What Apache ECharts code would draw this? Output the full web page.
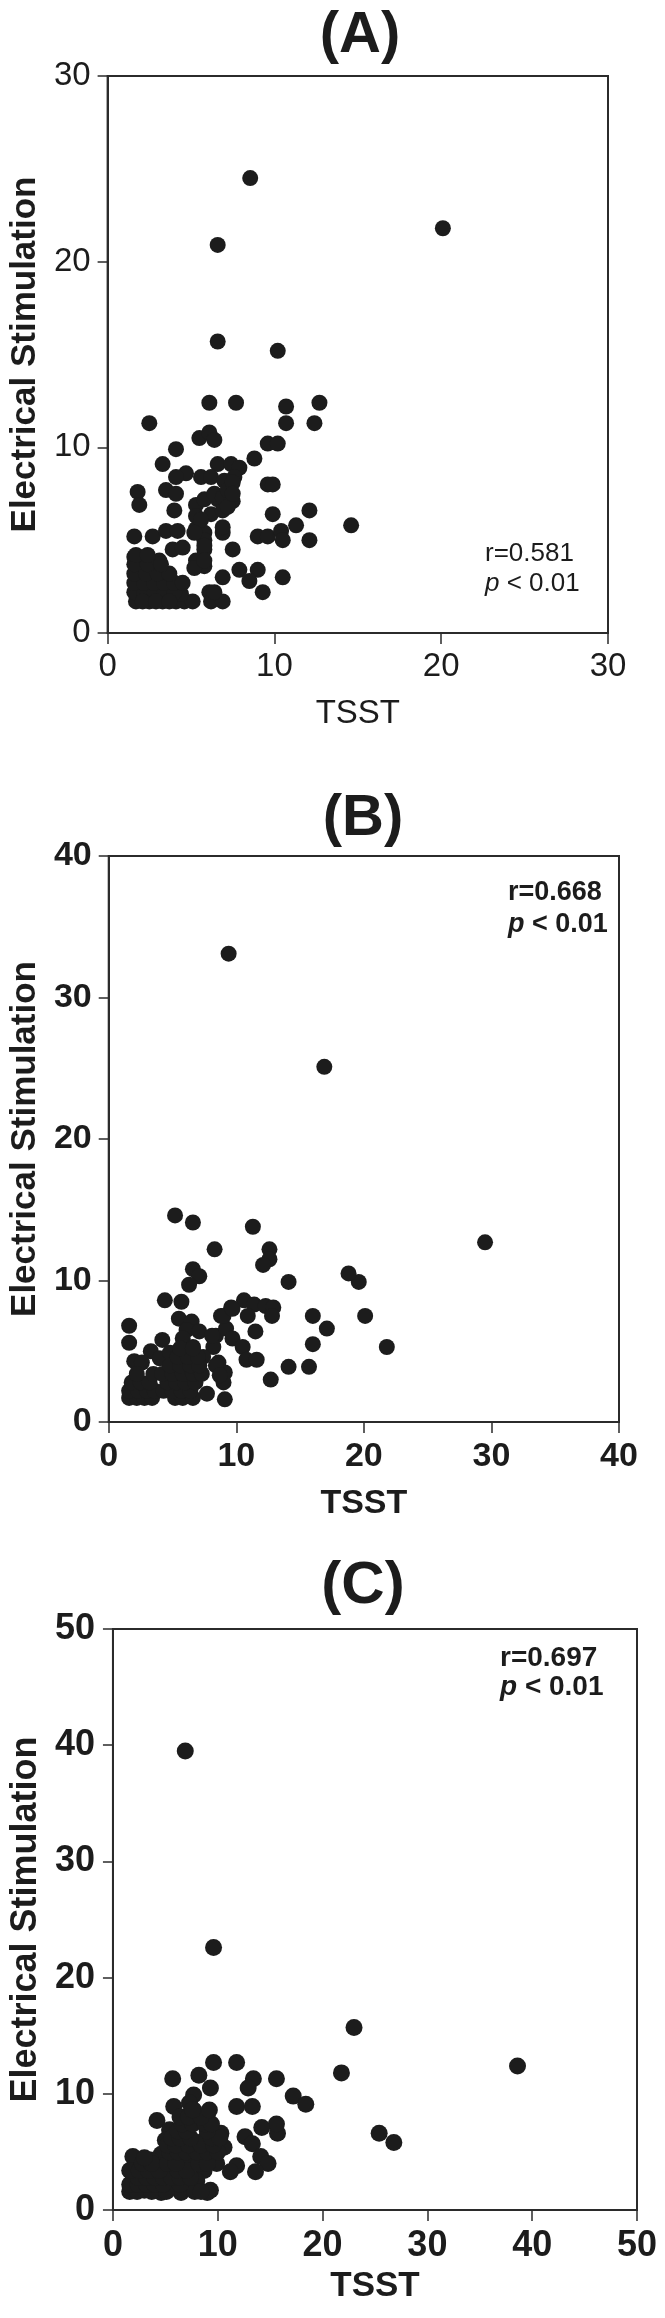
<!DOCTYPE html>
<html>
<head>
<meta charset="utf-8">
<script src="https://cdn.jsdelivr.net/npm/echarts@6/dist/echarts.min.js"></script>
<style>
html,body{margin:0;padding:0;background:#fff;}
#c{width:665px;height:2318px;}
</style>
</head>
<body>
<div id="c"></div>
<script>
// ---------- DATA ----------
const panelTitles = ['(A)', '(B)', '(C)'];
const xAxisName = 'TSST';
const yAxisName = 'Electrical Stimulation';
const xMaxes = [30, 40, 50];
const yMaxes = [30, 40, 50];
const tickStep = 10;
const rValues = ['r=0.581', 'r=0.668', 'r=0.697'];
const pText = '< 0.01';

// [TSST, Electrical Stimulation]
const pointsA = [
 [8.55,24.5],[20.1,21.8],[6.6,20.9],[6.6,15.7],[10.2,15.2],[14.6,5.8],
 [6.1,12.4],[7.7,12.4],[10.7,12.2],[12.7,12.4],[10.7,11.3],[12.4,11.3],[2.5,11.3],
 [5.5,10.5],[6.1,10.8],[6.4,10.4],[4.1,9.9],[9.6,10.2],[10.2,10.2],[3.3,9.1],
 [6.6,9.1],[7.4,9.1],[7.9,8.9],[8.8,9.4],
 [4.7,8.6],[4.1,8.4],[5.6,8.4],[6.2,8.4],[7.0,8.2],[7.6,8.4],
 [1.8,7.6],[3.5,7.7],[4.1,7.5],[1.9,6.9],[9.6,8.0],[9.9,8.0],
 [4.0,6.6],[5.3,6.9],[5.8,7.2],[6.6,7.2],[7.5,7.1],
 [5.3,6.3],[6.2,6.4],[6.9,6.6],[9.9,6.4],[12.1,6.6],[11.3,5.8],
 [1.6,5.2],[2.7,5.2],[3.5,5.5],[4.2,5.5],
 [5.3,5.6],[5.8,5.4],[6.9,5.4],[6.9,5.7],
 [9.0,5.2],[9.6,5.2],[10.4,5.5],[10.5,5.0],[12.1,5.0],
 [3.9,4.5],[4.5,4.6],[5.8,4.5],[5.8,5.0],[7.5,4.5],
 [1.6,4.1],[2.2,3.9],[3.1,3.9],
 [5.3,3.9],[5.8,3.6],[5.2,3.5],
 [7.9,3.4],[9.0,3.4],[8.5,2.8],[10.5,3.0],[9.3,2.2],[6.9,3.0],[6.1,2.2],
 [1.7,1.7],[2.5,1.7],[3.3,1.7],[4.1,1.7],[4.6,1.7],[5.1,1.7],[6.2,1.7],[6.9,1.7],
 [6.4,2.2],[4.4,2.1],
 [1.6,2.2],[2.2,2.2],[2.8,2.2],[3.4,2.2],[4.0,2.2],
 [1.6,2.7],[2.2,2.7],[2.8,2.7],[3.4,2.7],[4.0,2.7],[4.5,2.7],
 [1.6,3.2],[2.3,3.2],[3.0,3.2],[3.7,3.2],
 [1.6,3.7],[2.4,3.7],[3.2,3.7],
 [1.7,4.2],[2.4,4.2],
 [2.1,1.7],[2.9,1.7],[3.7,1.7],
 [5.6,6.1],[5.8,4.7],[6.4,7.5],[6.9,7.3],[7.2,7.7],[7.5,8.1],[5.2,5.4],[5.8,3.9],[7.2,6.8],[7.5,7.5]
];

const pointsB = [
 [9.4,33.1],[16.9,25.1],[29.5,12.7],[21.8,5.3],[20.1,7.5],[19.6,9.9],[18.8,10.5],[17.1,6.6],
 [16.0,7.5],[16.0,5.5],[15.7,3.9],[14.1,9.9],[14.1,3.9],[12.7,3.0],
 [5.2,14.6],[6.6,14.1],[11.3,13.8],[8.3,12.2],[12.6,12.2],[12.6,11.5],[12.1,11.1],
 [6.6,10.8],[7.1,10.3],[6.3,9.7],[4.4,8.6],[5.7,8.5],[5.5,7.3],
 [10.6,8.6],[11.4,8.3],[12.3,8.2],[12.9,8.1],[12.8,7.5],[9.6,8.1],[8.8,7.5],[10.9,7.5],
 [11.5,6.4],[1.6,6.8],[1.6,5.6],[4.2,5.8],[3.3,5.0],
 [6.5,7.1],[6.1,6.5],[7.1,6.4],[5.8,5.9],[8.4,6.1],[9.2,6.6],[8.2,5.3],
 [9.7,5.9],[10.5,5.3],[10.8,4.4],[11.6,4.4],
 [2.0,4.3],[2.6,4.2],[4.0,4.5],[4.8,4.9],[5.6,4.8],[6.6,5.3],
 [9.1,3.5],[9.0,2.8],[8.6,4.2],[7.7,2.0],[9.1,1.6],
 [8.1,6.1],[8.4,4.0],[9.0,7.5],[8.7,3.3],[9.7,8.0],[7.4,4.6],
 [1.6,1.7],[2.2,1.7],[2.8,1.7],[3.4,1.7],[5.2,1.7],[5.8,1.7],[6.6,1.7],
 [1.6,2.2],[2.3,2.2],[3.0,2.2],[3.6,2.2],[4.3,2.2],[5.0,2.2],[5.7,2.2],[6.4,2.2],
 [1.8,2.8],[2.5,2.8],[3.2,2.8],[4.6,2.8],[5.3,2.8],[6.0,2.8],[6.8,2.8],
 [2.2,3.4],[3.5,3.4],[4.2,3.4],[5.0,3.4],[5.8,3.4],[6.6,3.4],[7.3,3.4],
 [4.8,4.0],[5.6,4.0],[6.4,4.0],[7.1,4.0],[5.4,4.6],[6.2,4.6],[7.0,4.6],[5.6,5.2],[6.6,5.2]
];

const pointsC = [
 [6.9,39.5],[9.6,22.6],[23.0,15.7],[21.8,11.8],[38.6,12.4],[25.4,6.6],[26.8,5.8],
 [17.2,9.8],[18.4,9.1],[15.6,11.3],[15.7,6.6],[15.6,7.4],
 [9.6,12.7],[11.8,12.7],[5.7,11.3],[8.2,11.6],[9.3,10.5],[13.4,11.3],[12.9,10.5],
 [11.8,8.9],[13.3,8.9],[7.7,9.9],[7.3,9.2],[9.0,8.2],[7.7,8.6],[5.8,8.9],[6.5,8.0],[4.2,7.7],
 [14.2,7.1],[12.6,6.3],[13.3,5.7],[10.3,6.6],[10.6,5.4],[9.6,4.6],
 [5.4,6.9],[5.0,6.0],[6.8,6.3],[6.1,5.1],[8.0,5.4],[8.7,6.0],
 [14.1,4.6],[14.8,4.0],[13.6,3.3],[11.8,3.8],[11.2,3.3],
 [9.9,4.0],[8.7,3.4],[8.0,2.5],[9.3,1.7],[7.1,2.1],
 [6.8,4.3],[5.5,3.7],[4.6,4.8],[3.9,3.1],
 [1.9,4.6],[3.6,4.3],[1.9,2.5],[3.0,1.7],[4.6,1.5],[5.5,2.0],[6.5,1.5],[9.0,1.5],
 [1.6,1.6],[2.3,1.6],[3.7,1.6],[5.1,1.6],[7.8,1.6],[8.4,1.6],
 [1.6,2.2],[2.4,2.2],[3.2,2.2],[4.0,2.2],[4.8,2.2],[6.4,2.2],
 [2.4,2.8],[3.2,2.8],[4.0,2.8],[4.8,2.8],[5.6,2.8],[6.4,2.8],[7.4,2.8],
 [1.6,3.4],[2.5,3.4],[3.4,3.4],[4.4,3.4],[6.2,3.4],[7.0,3.4],
 [2.8,4.0],[3.7,4.0],[5.2,4.0],[6.0,4.0],[8.2,4.0],[9.0,4.0],[3.0,4.5],
 [5.4,5.0],[6.2,5.0],[7.0,5.0],[8.0,5.0],[9.0,5.0],[10.0,5.0],
 [5.2,5.6],[6.0,5.6],[7.2,5.6],[8.4,5.6],[9.6,5.6],
 [5.6,6.2],[6.4,6.2],[7.4,6.2],[9.4,6.2],[10.2,6.2],
 [6.2,6.8],[7.0,6.8],[9.0,6.8],
 [6.6,7.4],[7.6,7.4],[8.8,7.4],[9.4,7.4],
 [6.4,8.0],[7.2,8.0],[8.4,8.0],[7.6,8.6],[9.2,8.6]
];
const panelPoints = [pointsA, pointsB, pointsC];

// ---------- LAYOUT / STYLE ----------
const FONT = "'Liberation Sans', Arial, Helvetica, sans-serif";
const INK = '#1c1c1c';
const LINE = '#2b2b2b';
const grids = [
  {left: 103, top: 76, width: 505, height: 557},
  {left: 105, top: 856, width: 514, height: 566},
  {left: 108.5, top: 1629, width: 528.5, height: 581}
];
const panelStyle = [
  {weight: 'normal', tick: 33, xMargin: 17, yMargin: 17, name: 35, nameW: 'bold', xName: 33, xNameW: 'normal', xGap: 64, yGap: 62, sym: 16},
  {weight: 'bold', tick: 34, xMargin: 18, yMargin: 17, name: 35, nameW: 'bold', xName: 34, xNameW: 'bold', xGap: 65, yGap: 63, sym: 16},
  {weight: 'bold', tick: 36, xMargin: 18, yMargin: 18, name: 36, nameW: 'bold', xName: 35, xNameW: 'bold', xGap: 59, yGap: 65, sym: 17}
];
const titlePos = [[360, 36], [363, 819], [363, 1586]];
const titleSize = [58, 58, 60];
const annot = [
  {x: 485, y1: 554, y2: 584, size: 26, weight: 'normal'},
  {x: 508, y1: 893, y2: 925, size: 27, weight: 'bold'},
  {x: 500, y1: 1658, y2: 1687, size: 28, weight: 'bold'}
];

const option = {
  animation: false,
  backgroundColor: '#fff',
  grid: grids.map(g => Object.assign({show: true, borderColor: LINE, borderWidth: 2, backgroundColor: 'transparent', containLabel: false}, g)),
  xAxis: grids.map((g, i) => ({
    type: 'value', gridIndex: i, min: 0, max: xMaxes[i], interval: tickStep,
    name: xAxisName, nameLocation: 'middle', nameGap: panelStyle[i].xGap,
    nameTextStyle: {fontFamily: FONT, fontSize: panelStyle[i].xName, fontWeight: panelStyle[i].xNameW, color: INK},
    axisLine: {show: true, onZero: false, lineStyle: {color: LINE, width: 2}},
    axisTick: {show: true, inside: false, length: 11, lineStyle: {color: LINE, width: 1.5}},
    splitLine: {show: false},
    axisLabel: {fontFamily: FONT, fontSize: panelStyle[i].tick, fontWeight: panelStyle[i].weight, color: INK, margin: panelStyle[i].xMargin, showMinLabel: true, showMaxLabel: true}
  })),
  yAxis: grids.map((g, i) => ({
    type: 'value', gridIndex: i, min: 0, max: yMaxes[i], interval: tickStep,
    name: yAxisName, nameLocation: 'middle', nameRotate: 90, nameGap: panelStyle[i].yGap,
    nameTextStyle: {fontFamily: FONT, fontSize: panelStyle[i].name, fontWeight: panelStyle[i].nameW, color: INK},
    axisLine: {show: true, onZero: false, lineStyle: {color: LINE, width: 2}},
    axisTick: {show: true, inside: false, length: 10, lineStyle: {color: LINE, width: 1.5}},
    splitLine: {show: false},
    axisLabel: {fontFamily: FONT, fontSize: panelStyle[i].tick, fontWeight: panelStyle[i].weight, color: INK, margin: panelStyle[i].yMargin, showMinLabel: true, showMaxLabel: true}
  })),
  series: panelPoints.map((pts, i) => ({
    type: 'scatter', xAxisIndex: i, yAxisIndex: i,
    symbol: 'circle', symbolSize: panelStyle[i].sym,
    itemStyle: {color: INK, opacity: 1},
    emphasis: {disabled: true},
    data: pts
  })),
  graphic: []
};

panelTitles.forEach((t, i) => {
  option.graphic.push({
    type: 'text', x: titlePos[i][0], y: titlePos[i][1], silent: true,
    style: {text: t, fill: INK, fontFamily: FONT, fontSize: titleSize[i], fontWeight: 'bold', align: 'center', verticalAlign: 'middle'}
  });
});
annot.forEach((a, i) => {
  option.graphic.push({
    type: 'text', x: a.x, y: a.y1, silent: true,
    style: {text: rValues[i], fill: INK, fontFamily: FONT, fontSize: a.size, fontWeight: a.weight, align: 'left', verticalAlign: 'middle'}
  });
  option.graphic.push({
    type: 'text', x: a.x, y: a.y2, silent: true,
    style: {text: '{i|p} ' + pText, fill: INK, fontFamily: FONT, fontSize: a.size, fontWeight: a.weight, align: 'left', verticalAlign: 'middle',
      rich: {i: {fontStyle: 'italic', fontFamily: FONT, fontSize: a.size, fontWeight: a.weight, fill: INK}}}
  });
});

const chart = echarts.init(document.getElementById('c'), null, {renderer: 'canvas', width: 665, height: 2318});
chart.setOption(option);
</script>
</body>
</html>
